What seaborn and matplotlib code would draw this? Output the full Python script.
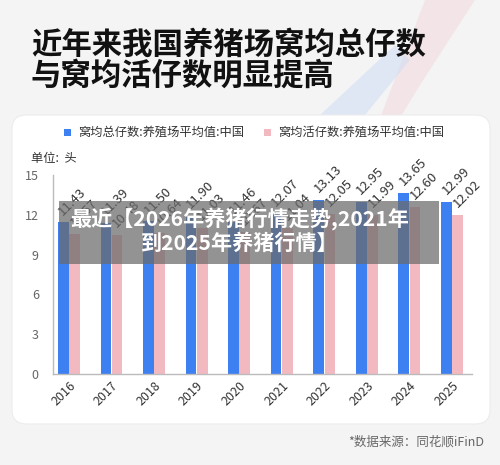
import matplotlib
matplotlib.use("Agg")
import matplotlib.pyplot as plt
from matplotlib.patches import FancyBboxPatch, Rectangle, Polygon
import seaborn as sns
import pandas as pd

years = ["2016", "2017", "2018", "2019", "2020", "2021", "2022", "2023", "2024", "2025"]
total_piglets = [11.43, 11.39, 11.50, 11.90, 11.46, 12.07, 13.13, 12.95, 13.65, 12.99]
live_piglets = [10.57, 10.48, 10.64, 11.03, 10.67, 11.04, 12.05, 11.99, 12.60, 12.02]
series_names = ["窝均总仔数:养殖场平均值:中国", "窝均活仔数:养殖场平均值:中国"]
y_ticks = [0, 3, 6, 9, 12, 15]

df = pd.DataFrame({
    "year": years * 2,
    "value": total_piglets + live_piglets,
    "series": [series_names[0]] * len(years) + [series_names[1]] * len(years),
})

sns.set_theme(style="white")
plt.rcParams["font.family"] = ["Noto Sans CJK SC", "DejaVu Sans"]

W, H = 500, 465
fig = plt.figure(figsize=(W / 100, H / 100), dpi=100)
fig.patch.set_facecolor("#f4f4f4")

def fx(px):
    return px / W

def fy(py):
    return 1 - py / H

# decorative shapes top right
fig.patches.append(Polygon([[fx(380), fy(118)], [fx(425), fy(0)], [fx(475), fy(0)], [fx(420), fy(85)], [fx(400), fy(118)]],
                           closed=True, transform=fig.transFigure, facecolor="#f3d3d8", alpha=0.45, edgecolor="none", zorder=0))
fig.patches.append(Polygon([[fx(320), fy(115)], [fx(395), fy(45)], [fx(410), fy(60)], [fx(365), fy(115)]],
                           closed=True, transform=fig.transFigure, facecolor="#c9d9f5", alpha=0.45, edgecolor="none", zorder=0))

# white card
card = FancyBboxPatch((fx(12), fy(424)), fx(478), (424 - 115) / H,
                      boxstyle="round,pad=0,rounding_size=0.03", transform=fig.transFigure,
                      facecolor="white", edgecolor="#ececec", linewidth=0.8, zorder=1)
fig.patches.append(card)

# title
fig.text(fx(31), fy(45), "近年来我国养猪场窝均总仔数", fontsize=21.9, fontweight="bold",
         color="#111111", va="center", ha="left", zorder=3)
fig.text(fx(31), fy(76), "与窝均活仔数明显提高", fontsize=21.9, fontweight="bold",
         color="#111111", va="center", ha="left", zorder=3)

ax = fig.add_axes([fx(52.7), fy(374), fx(472 - 52.7), (374 - 175) / H])
ax.set_facecolor("none")
ax.set_zorder(2)

palette = {series_names[0]: "#3d80f2", series_names[1]: "#f3b9c1"}
sns.barplot(data=df, x="year", y="value", hue="series", palette=palette,
            width=0.53, gap=0.06, ax=ax, legend=False, saturation=1, edgecolor="none")

ax.set_xlim(-0.38, 9.47)
ax.set_ylim(0, 15)
ax.set_yticks(y_ticks)
ax.set_yticklabels([str(t) for t in y_ticks], fontsize=9, color="#666666")
ax.tick_params(axis="y", length=0, pad=10)
ax.tick_params(axis="x", length=0, pad=4)
ax.set_xticks(range(len(years)))
ax.set_xticklabels(years, rotation=45, ha="right", rotation_mode="anchor", fontsize=9, color="#333333")
ax.set_xlabel("")
ax.set_ylabel("")
for s in ["top", "right"]:
    ax.spines[s].set_visible(False)
for s in ["left", "bottom"]:
    ax.spines[s].set_color("#bbbbbb")
    ax.spines[s].set_linewidth(1.0)

for cont in ax.containers:
    for bar in cont:
        h = bar.get_height()
        ax.text(bar.get_x() + bar.get_width() / 2 + 0.05, h + 0.35, f"{h:.2f}", rotation=45,
                rotation_mode="anchor", ha="left", va="bottom", fontsize=9.5, color="#333333")

# legend
fig.patches.append(Rectangle((fx(64), fy(136)), fx(7), 7 / H, transform=fig.transFigure,
                             facecolor=palette[series_names[0]], edgecolor="none", zorder=3))
fig.text(fx(78), fy(132), series_names[0], fontsize=8.8, color="#333333", va="center", ha="left", zorder=3)
fig.patches.append(Rectangle((fx(264), fy(136)), fx(7), 7 / H, transform=fig.transFigure,
                             facecolor=palette[series_names[1]], edgecolor="none", zorder=3))
fig.text(fx(278), fy(132), series_names[1], fontsize=8.8, color="#333333", va="center", ha="left", zorder=3)

fig.text(fx(31), fy(158), "单位:  头", fontsize=8.8, color="#333333", va="center", ha="left", zorder=3)

# overlay banner
fig.patches.append(Rectangle((fx(59), fy(264)), fx(439 - 59), (264 - 201) / H, transform=fig.transFigure,
                             facecolor="#6a6a6a", alpha=0.72, edgecolor="none", zorder=5))
fig.text(fx(240), fy(219), "最近【2026年养猪行情走势,2021年", fontsize=15.2, fontweight="bold",
         color="white", va="center", ha="center", zorder=6)
fig.text(fx(240), fy(243), "到2025年养猪行情】", fontsize=15.2, fontweight="bold",
         color="white", va="center", ha="center", zorder=6)

fig.text(fx(484), fy(442), "*数据来源：同花顺iFinD", fontsize=9, color="#666666", va="center", ha="right", zorder=3)

fig.savefig("out.png", dpi=100, facecolor=fig.get_facecolor())
